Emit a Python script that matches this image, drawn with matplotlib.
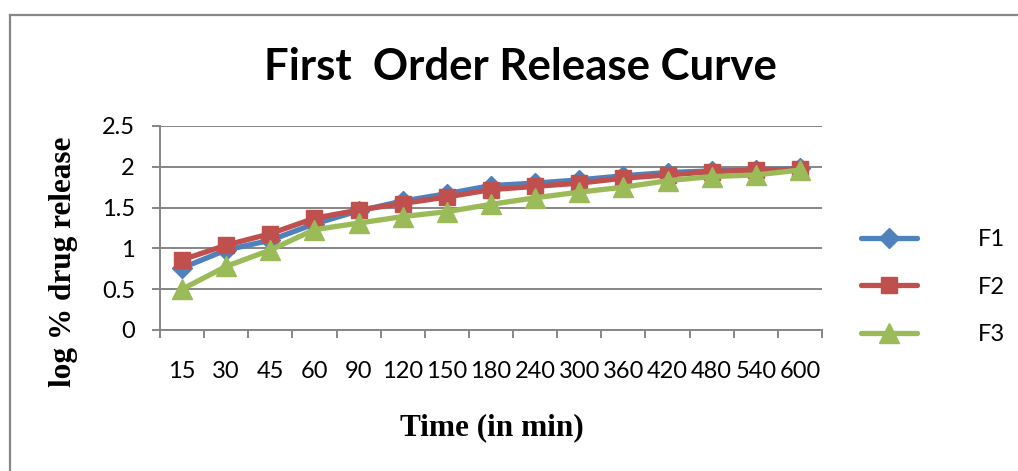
import matplotlib
matplotlib.use('Agg')
import matplotlib.pyplot as plt
from matplotlib.lines import Line2D
import numpy as np

# data
time_labels = ['15', '30', '45', '60', '90', '120', '150', '180', '240',
               '300', '360', '420', '480', '540', '600']
f1 = [0.76, 0.98, 1.10, 1.30, 1.46, 1.58, 1.67, 1.77, 1.80, 1.84, 1.89, 1.93, 1.95, 1.96, 1.98]
f2 = [0.86, 1.04, 1.18, 1.37, 1.47, 1.55, 1.63, 1.72, 1.76, 1.80, 1.86, 1.90, 1.94, 1.96, 1.97]
f3 = [0.50, 0.78, 0.98, 1.23, 1.31, 1.39, 1.45, 1.54, 1.62, 1.69, 1.75, 1.83, 1.88, 1.90, 1.96]
series_names = ['F1', 'F2', 'F3']

colors = {'F1': '#4F81BD', 'F2': '#C0504D', 'F3': '#9BBB59'}
markers = {'F1': ('D', 10), 'F2': ('s', 12), 'F3': ('^', 14)}
grid_col = '#868686'

W, H = 1018, 471
fig = plt.figure(figsize=(W / 100, H / 100), dpi=100, facecolor='white')

# outer chart border (only top and left visible in the crop)
fig.add_artist(Line2D([10 / W, 10 / W], [0, 1 - 15 / H], transform=fig.transFigure,
                      color=grid_col, lw=1.6))
fig.add_artist(Line2D([10 / W, 1], [1 - 15 / H, 1 - 15 / H], transform=fig.transFigure,
                      color=grid_col, lw=1.6))

ax = fig.add_axes([160 / W, 1 - 330 / H, 662 / W, 204 / H])
x = np.arange(len(time_labels))

for name, vals in zip(series_names, [f1, f2, f3]):
    m, ms = markers[name]
    ax.plot(x, vals, color=colors[name], lw=3.8, marker=m, markersize=ms,
            label=name, solid_capstyle='round')

ax.set_xlim(-0.5, len(time_labels) - 0.5)
ax.set_ylim(0, 2.5)
ax.set_yticks(np.arange(0, 2.51, 0.5))
ax.set_yticklabels(['0', '0.5', '1', '1.5', '2', '2.5'])
ax.set_xticks(x)
ax.set_xticklabels(time_labels)
ax.set_xticks(np.arange(-0.5, len(time_labels)), minor=True)

ax.grid(axis='y', color=grid_col, lw=1.4)
ax.set_axisbelow(True)
for s in ['top', 'right']:
    ax.spines[s].set_visible(False)
for s in ['left', 'bottom']:
    ax.spines[s].set_color(grid_col)
    ax.spines[s].set_linewidth(1.4)

ax.tick_params(axis='x', which='major', length=0, pad=22, labelsize=17)
ax.tick_params(axis='x', which='minor', length=6, width=1.4, color=grid_col)
ax.tick_params(axis='y', length=6, width=1.4, color=grid_col, pad=12, labelsize=17)
for lab in ax.get_xticklabels() + ax.get_yticklabels():
    lab.set_family('Lato')

fig.text(520 / W, 1 - 67 / H, 'First  Order Release Curve', ha='center', va='center',
         fontsize=31.5, fontweight='bold', family='Lato')
fig.text(64 / W, 1 - 262 / H, 'log % drug release', ha='center', va='center',
         rotation=90, fontsize=22.5, fontweight='bold', family='Liberation Serif')
fig.text(492 / W, 1 - 428 / H, 'Time (in min)', ha='center', va='center',
         fontsize=22.5, fontweight='bold', family='Liberation Serif')

leg = ax.legend(loc='center left', bbox_to_anchor=(840 / W, 1 - 287 / H),
                bbox_transform=fig.transFigure, frameon=False,
                handlelength=2.35, handletextpad=2.6, labelspacing=1.12,
                prop={'family': 'Lato', 'size': 17})

fig.savefig('out.png', dpi=100, facecolor='white')
